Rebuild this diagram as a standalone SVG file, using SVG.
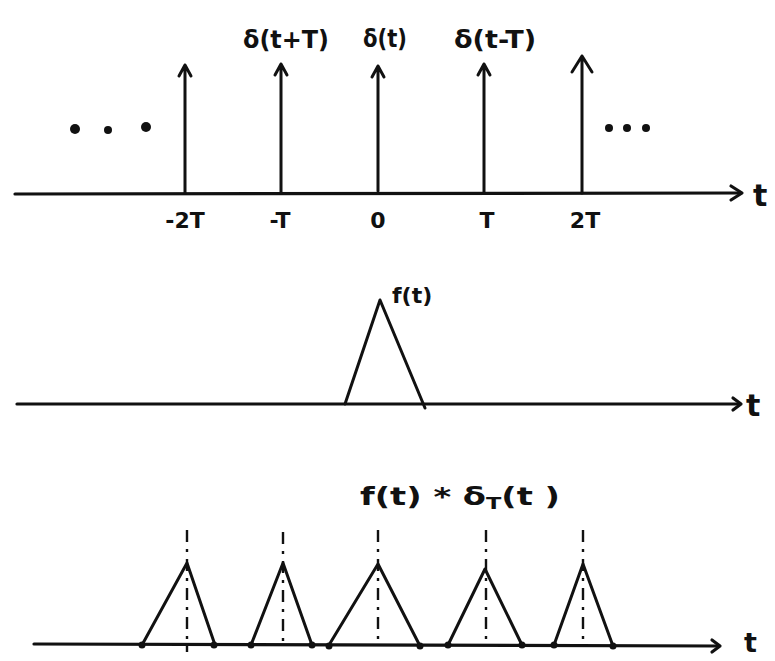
<svg xmlns="http://www.w3.org/2000/svg" width="775" height="661" viewBox="0 0 775 661">
<style>
  .ln { stroke:#111; stroke-width:3; fill:none; stroke-linecap:round; stroke-linejoin:round; }
  .ax { stroke:#111; stroke-width:3.2; fill:none; stroke-linecap:round; stroke-linejoin:round; }
  .dd { stroke:#111; stroke-width:2.4; fill:none; stroke-dasharray:12 7 3 7; }
  .tx { font-family:"DejaVu Sans","Liberation Sans",sans-serif; fill:#111; font-weight:bold; }
  .dot { fill:#111; }
</style>
<rect width="775" height="661" fill="#fff"/>

<!-- Top panel: impulse train -->
<g id="axis-top">
  <path class="ax" d="M15,194 L741,193"/>
  <path class="ax" d="M731,186 L742,193 L731,200"/>
  <text class="tx" x="753" y="206" font-size="30" font-weight="normal">t</text>
</g>
<g id="dots-left">
  <circle class="dot" cx="75" cy="129" r="5"/>
  <circle class="dot" cx="108" cy="130" r="4"/>
  <circle class="dot" cx="146" cy="127" r="5"/>
</g>
<g id="dots-right">
  <circle class="dot" cx="609" cy="128" r="4"/>
  <circle class="dot" cx="627" cy="128" r="4"/>
  <circle class="dot" cx="646" cy="128" r="4"/>
</g>
<g id="connectors">
  <g id="imp-m2T">
    <path class="ln" d="M185,193 L185,65 M179,76 L185,65 L191,76"/>
  </g>
  <g id="imp-mT">
    <path class="ln" d="M281,193 L281,64 M275,75 L281,64 L287,75"/>
  </g>
  <g id="imp-0">
    <path class="ln" d="M378,191 L378,66 M372,77 L378,66 L384,77"/>
  </g>
  <g id="imp-T">
    <path class="ln" d="M484,193 L484,64 M478,75 L484,64 L490,75"/>
  </g>
  <g id="imp-2T">
    <path class="ln" d="M582,193 L582,56 M572,72 L582,56 L592,72"/>
  </g>
</g>
<g id="labels-top">
  <text class="tx" x="286" y="48" font-size="24" text-anchor="middle" textLength="86" lengthAdjust="spacingAndGlyphs">δ(t+T)</text>
  <text class="tx" x="385" y="47" font-size="24" text-anchor="middle" textLength="44" lengthAdjust="spacingAndGlyphs">δ(t)</text>
  <text class="tx" x="495" y="48" font-size="24" text-anchor="middle" textLength="82" lengthAdjust="spacingAndGlyphs">δ(t-T)</text>
</g>
<g id="ticks-top">
  <text class="tx" x="185" y="228" font-size="22" text-anchor="middle">-2T</text>
  <text class="tx" x="280" y="228" font-size="22" text-anchor="middle">-T</text>
  <text class="tx" x="378" y="228" font-size="22" text-anchor="middle">0</text>
  <text class="tx" x="487" y="228" font-size="22" text-anchor="middle">T</text>
  <text class="tx" x="585" y="228" font-size="22" text-anchor="middle">2T</text>
</g>

<!-- Middle panel: f(t) -->
<g id="axis-mid">
  <path class="ax" d="M17,404 L738,404"/>
  <path class="ax" d="M733,398 L741,404 L733,410"/>
  <text class="tx" x="746" y="416" font-size="30" font-weight="normal">t</text>
</g>
<g id="pulse-f">
  <path class="ln" d="M345,404 L380,300 L425,408"/>
  <text class="tx" x="392" y="303" font-size="22">f(t)</text>
</g>

<!-- Bottom panel: convolution -->
<g id="axis-bot">
  <path class="ax" d="M34,644 L718,646"/>
  <path class="ax" d="M712,640 L720,646 L712,652"/>
  <text class="tx" x="744" y="652" font-size="27" font-weight="normal">t</text>
</g>
<g id="label-conv">
  <text class="tx" x="360" y="505" font-size="24" textLength="200" lengthAdjust="spacingAndGlyphs">f(t) * δ<tspan font-size="16" dy="4">T</tspan><tspan dy="-4">(t )</tspan></text>
</g>
<g id="tri-1">
  <path class="dd" d="M187,530 L187,652"/>
  <path class="ln" d="M142,645 L187,563 L215,645"/>
  <circle class="dot" cx="142" cy="645" r="3.5"/><circle class="dot" cx="214" cy="645" r="3.5"/>
</g>
<g id="tri-2">
  <path class="dd" d="M283,532 L283,646"/>
  <path class="ln" d="M251,645 L283,563 L312,645"/>
  <circle class="dot" cx="251" cy="645" r="3.5"/><circle class="dot" cx="312" cy="645" r="3.5"/>
</g>
<g id="tri-3">
  <path class="dd" d="M378,530 L378,646"/>
  <path class="ln" d="M329,645 L378,564 L420,646"/>
  <circle class="dot" cx="329" cy="646" r="3.5"/><circle class="dot" cx="420" cy="646" r="3.5"/>
</g>
<g id="tri-4">
  <path class="dd" d="M486,530 L486,646"/>
  <path class="ln" d="M448,645 L485,569 L522,645"/>
  <circle class="dot" cx="448" cy="645" r="3.5"/><circle class="dot" cx="522" cy="645" r="3.5"/>
</g>
<g id="tri-5">
  <path class="dd" d="M583,530 L583,646"/>
  <path class="ln" d="M554,645 L583,564 L613,646"/>
  <circle class="dot" cx="554" cy="645" r="3.5"/><circle class="dot" cx="613" cy="646" r="3.5"/>
</g>
</svg>
